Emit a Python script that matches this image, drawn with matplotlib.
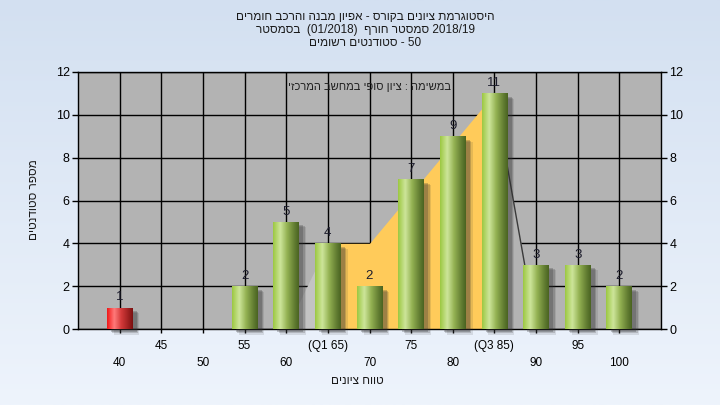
import numpy as np
import matplotlib
matplotlib.use("Agg")
import matplotlib.pyplot as plt
from matplotlib.colors import LinearSegmentedColormap
from matplotlib import patheffects as pe

plt.rcParams['font.family'] = ['Liberation Sans', 'DejaVu Sans']

# ---------------- data ----------------
grades = [40, 45, 50, 55, 60, 65, 70, 75, 80, 85, 90, 95, 100]
counts = [1, 0, 0, 2, 5, 4, 2, 7, 9, 11, 3, 3, 2]
tick_labels = ['40', '45', '50', '55', '60', '(Q1 65)', '70', '75', '80', '(Q3 85)', '90', '95', '100']
pass_grade = 55
q1, q3 = 65, 85
area_x = [60, 65, 70, 85, 90]
area_y = [0, 4, 4, 11, 0]

title_lines = ["היסטוגרמת ציונים בקורס - אפיון מבנה והרכב חומרים",
               "בסמסטר  (01/2018)  סמסטר חורף 2018/19",
               "סטודנטים רשומים - 50"]
note_text = "במשימה : ציון סופי במחשב המרכזי"
x_label = "טווח ציונים"
y_label = "מספר סטודנטים"


def kind(w):
    if any('\u0590' <= c <= '\u05FF' for c in w):
        return 'R'
    if any(c.isalnum() for c in w):
        return 'L'
    return 'N'


def vis(s):
    # simple visual ordering: Hebrew runs displayed right-to-left, numbers left-to-right
    toks = s.split(' ')
    kinds = [kind(t) for t in toks]
    res = []
    for i, k in enumerate(kinds):
        if k != 'N':
            res.append(k)
            continue
        prev = next((kinds[j] for j in range(i - 1, -1, -1) if kinds[j] != 'N'), 'L')
        nxt = next((kinds[j] for j in range(i + 1, len(kinds)) if kinds[j] != 'N'), 'L')
        res.append('R' if prev == 'R' and nxt == 'R' else 'L')
    out, run = [], []
    for t, k in zip(toks, res):
        if k == 'R':
            run.append(t[::-1])
        else:
            if run:
                out.extend(reversed(run))
                run = []
            out.append(t)
    if run:
        out.extend(reversed(run))
    return ' '.join(out)


# ---------------- figure ----------------
W, H = 720, 405
fig = plt.figure(figsize=(7.2, 4.05), dpi=100)

bg = fig.add_axes([0, 0, 1, 1], zorder=-10)
grad = np.linspace(0, 1, 256).reshape(-1, 1)
bg_cmap = LinearSegmentedColormap.from_list('bg', ['#d3e0f1', '#eef4fc'])
bg.imshow(grad, aspect='auto', cmap=bg_cmap, extent=[0, 1, 0, 1], origin='upper')
bg.set_axis_off()

ax = fig.add_axes([78 / W, 1 - 329 / H, (661 - 78) / W, (329 - 72) / H])
ax.set_facecolor('#b3b3b3')
ax.set_xlim(35, 105)
ax.set_ylim(0, 12)

# grid
ax.set_axisbelow(True)
ax.set_xticks(grades[::2])
ax.set_xticks(grades[1::2], minor=True)
ax.set_xticklabels(tick_labels[::2])
ax.set_xticklabels(tick_labels[1::2], minor=True)
ax.set_yticks(range(0, 13, 2))
ax.grid(True, which='both', color='black', linewidth=1.0)

for s in ax.spines.values():
    s.set_color('black')
    s.set_linewidth(1.0)

ax.tick_params(axis='y', left=True, right=True, labelleft=True, labelright=True,
               direction='out', length=4, width=1, pad=2, labelsize=9, colors='black')
ax.tick_params(axis='x', which='major', direction='out', length=3, width=1, pad=17, labelsize=8.5)
ax.tick_params(axis='x', which='minor', direction='out', length=3, width=1, pad=5, labelsize=8.5)

# background area series (segments)
ax_arr = np.array(area_x, dtype=float)
ay_arr = np.array(area_y, dtype=float)
left_mask = ax_arr <= q1
mid_mask = (ax_arr >= q1) & (ax_arr <= q3)
right_mask = ax_arr >= q3
ax.fill_between(ax_arr[left_mask], 0, ay_arr[left_mask], color='#c3c3c3', lw=0, zorder=1)
ax.fill_between(ax_arr[mid_mask], 0, ay_arr[mid_mask], color='#ffcb5a', lw=0, zorder=1)
ax.fill_between(ax_arr[right_mask], 0, ay_arr[right_mask], color='#b3b3b3', lw=0, zorder=1)
ax.plot(ax_arr[right_mask], ay_arr[right_mask], color='#3a3a3a', lw=1.0, zorder=1.1)

# bars with cylinder gradient
green = LinearSegmentedColormap.from_list('g', [(0, '#9cc841'), (0.28, '#cde59a'),
                                                (0.55, '#93b152'), (0.85, '#5f7a30'),
                                                (1.0, '#4a6321')])
red = LinearSegmentedColormap.from_list('r', [(0, '#f01818'), (0.28, '#ff7a7a'),
                                              (0.55, '#d43a3a'), (0.85, '#9a1e1e'),
                                              (1.0, '#7a1010')])
hgrad = np.linspace(0, 1, 128).reshape(1, -1)
bw = 3.1
shadow = [pe.SimplePatchShadow(offset=(3.0, -2.5), shadow_rgbFace='#303030', alpha=0.25),
          pe.SimplePatchShadow(offset=(4.0, -3.2), shadow_rgbFace='#303030', alpha=0.2),
          pe.SimplePatchShadow(offset=(5.0, -4.0), shadow_rgbFace='#303030', alpha=0.12)]

for g, c in zip(grades, counts):
    if c <= 0:
        continue
    cmap = red if g < pass_grade else green
    b = ax.bar(g, c, width=bw, color=cmap(0.5), zorder=2.9, clip_on=False,
               path_effects=shadow + [pe.Normal()])[0]
    im = ax.imshow(hgrad, cmap=cmap, aspect='auto', extent=[g - bw / 2, g + bw / 2, 0, c],
                   zorder=3, interpolation='bilinear')
    im.set_clip_path(b)
    ax.annotate(str(c), (g, c), xytext=(0, 3), textcoords='offset points',
                ha='center', va='bottom', fontsize=9.5, color='#1c1c2c', zorder=4)

ax.set_xlim(35, 105)
ax.set_ylim(0, 12)

# texts
ax.text((369 - 78) / (661 - 78), (12 - 0.68) / 12, vis(note_text), transform=ax.transAxes,
        ha='center', va='center', fontsize=8, color='#202020', zorder=5)
for i, line in enumerate(title_lines):
    fig.text(365 / W, 1 - (17 + 13 * i) / H, vis(line), ha='center', va='center',
             fontsize=8.5, color='#1a1a1a')
fig.text(357 / W, 1 - 381 / H, vis(x_label), ha='center', va='center', fontsize=8.5, color='#1a1a1a')
fig.text(34 / W, 1 - 200 / H, vis(y_label), ha='center', va='center',
         rotation=90, fontsize=8.5, color='#1a1a1a')

fig.savefig('out.png', dpi=100)
